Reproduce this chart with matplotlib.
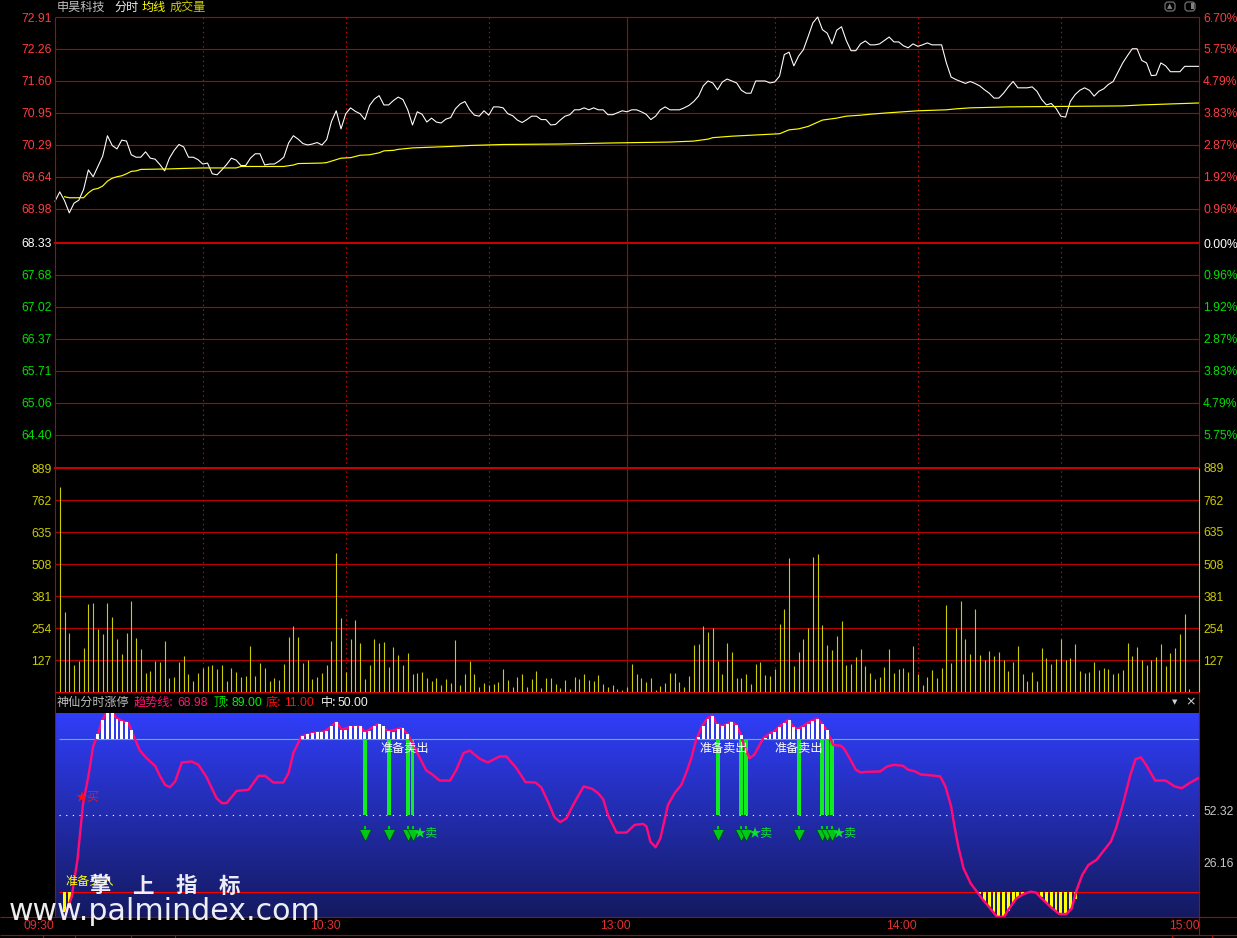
import numpy as np
import matplotlib
matplotlib.use("Agg")
import matplotlib.pyplot as plt
from matplotlib.patches import FancyBboxPatch

# ---------------- data ----------------
price = [
 69.14,69.33,69.15,68.90,69.10,69.16,69.38,69.78,69.64,69.85,
 70.06,70.48,70.28,70.21,70.39,70.37,70.09,70.04,70.04,70.15,
 70.02,70.00,69.89,69.76,70.02,70.18,70.30,70.25,70.04,70.04,
 69.99,69.90,69.92,69.70,69.68,69.78,69.89,70.02,69.98,69.87,
 69.87,70.02,70.11,70.11,69.88,69.90,69.90,69.96,70.04,70.33,
 70.48,70.41,70.32,70.29,70.31,70.34,70.29,70.40,70.77,70.99,
 70.62,70.93,71.05,70.98,70.93,70.81,71.10,71.23,71.30,71.11,
 71.11,71.20,71.27,71.22,71.01,70.70,70.97,70.92,70.76,70.84,
 70.76,70.74,70.82,70.85,71.03,71.13,71.18,71.01,70.90,70.88,
 70.99,70.90,71.07,71.07,71.05,70.93,70.89,70.80,70.75,70.81,
 70.88,70.88,70.81,70.81,70.70,70.71,70.80,70.88,70.91,71.01,
 71.01,71.05,71.01,71.05,71.01,71.01,70.91,70.91,70.95,70.99,
 70.97,71.01,71.01,70.97,70.92,70.81,70.88,71.01,71.07,71.01,
 71.01,71.01,71.05,71.10,71.18,71.29,71.50,71.60,71.56,71.42,
 71.58,71.64,71.60,71.56,71.41,71.35,71.35,71.60,71.60,71.60,
 71.56,71.58,71.70,72.14,72.19,71.91,72.11,72.24,72.51,72.79,
 72.91,72.65,72.58,72.36,72.64,72.71,72.43,72.22,72.22,72.36,
 72.42,72.34,72.34,72.36,72.43,72.50,72.40,72.40,72.32,72.28,
 72.36,72.31,72.34,72.38,72.34,72.34,72.34,71.97,71.68,71.63,
 71.59,71.55,71.59,71.55,71.50,71.42,71.35,71.25,71.25,71.35,
 71.48,71.59,71.46,71.46,71.46,71.48,71.39,71.22,71.11,71.14,
 71.04,70.88,70.86,71.18,71.32,71.41,71.46,71.41,71.29,71.39,
 71.44,71.53,71.59,71.78,71.97,72.12,72.26,72.26,72.02,71.97,
 71.71,71.72,71.97,71.91,71.79,71.79,71.79,71.90,71.90,71.90,
 71.90]

avg_minute = [2,3,6,7,8,9,10,11,12,13,14,15,16,17,18,24,27,31,38,39,48,50,51,56,57,58,60,62,64,66,68,69,
              71,72,75,83,87,94,106,116,129,134,137,138,142,148,152,154,156,158,161,164,166,169,171,175,
              178,181,187,189,192,200,224,228,234,240]
avg_price = [69.23,69.21,69.21,69.31,69.38,69.40,69.45,69.55,69.61,69.64,69.66,69.70,69.75,69.76,69.79,69.80,
             69.81,69.82,69.82,69.85,69.85,69.88,69.91,69.92,69.93,69.96,70.02,70.03,70.08,70.09,70.13,70.17,
             70.18,70.20,70.23,70.26,70.28,70.30,70.31,70.33,70.35,70.37,70.41,70.44,70.47,70.50,70.52,70.60,
             70.62,70.67,70.80,70.84,70.88,70.90,70.92,70.95,70.97,70.99,71.01,71.03,71.05,71.07,71.09,71.11,
             71.13,71.15]

volume = [
 812,317,234,107,123,174,348,352,249,230,
 352,297,210,150,234,360,214,170,75,83,
 123,119,202,55,59,119,143,71,44,75,
 95,103,107,91,107,44,95,79,59,63,
 182,63,115,95,44,55,48,111,218,261,
 218,115,127,51,59,75,107,202,550,293,
 79,210,285,194,51,107,210,194,198,99,
 178,147,108,156,73,77,81,57,45,57,
 29,53,37,207,29,73,124,73,21,37,
 29,33,41,92,49,21,61,73,21,53,
 84,17,57,57,33,17,49,13,61,53,
 73,49,45,69,33,21,29,13,9,21,
 112,73,57,41,57,9,25,37,77,77,
 41,21,65,187,191,263,239,255,124,73,
 195,160,57,57,73,33,112,120,69,65,
 92,271,330,532,104,160,211,255,536,548,
 267,187,168,223,282,108,112,140,172,104,
 77,53,61,100,172,77,92,96,81,183,
 73,29,61,88,57,96,346,116,255,362,
 211,152,330,148,128,164,144,160,128,84,
 120,183,73,45,81,45,176,136,112,132,
 211,128,136,191,84,77,81,120,88,96,
 92,73,77,88,195,144,180,128,108,128,
 140,191,104,156,176,231,310,13]

trend_minute = [2.3,3.5,4.7,5.9,7.0,8.0,9.1,9.8,10.8,11.9,12.9,14.3,15.4,16.4,17.8,19.2,21.0,22.0,23.1,24.1,25.2,26.6,
 28.7,30.1,31.8,33.9,35.0,36.0,38.1,40.6,42.7,44.1,45.8,47.9,49.0,50.0,51.7,54.2,56.6,59.1,60.1,61.9,64.0,65.0,67.8,
 69.9,72.7,74.1,76.2,77.9,79.0,80.7,82.9,84.2,85.7,87.0,89.1,90.8,93.3,94.7,96.8,98.7,100.8,102.0,103.4,104.8,106.0,
 107.3,108.7,110.9,112.7,113.9,115.0,116.0,117.8,119.9,121.6,123.4,124.1,124.9,126.0,127.0,128.6,130.0,131.4,132.4,
 133.5,134.5,135.8,136.9,137.9,138.8,139.9,140.9,141.8,142.9,143.9,144.6,145.7,146.7,148.6,149.9,150.9,152.0,153.0,
 153.9,154.8,155.8,156.9,157.9,158.8,159.9,160.9,161.9,162.8,163.2,164.9,165.6,166.7,168.0,169.0,170.1,173.1,174.6,
 176.0,177.9,179.0,180.5,181.6,183.1,185.7,186.8,188.0,188.7,189.5,190.6,192.1,193.4,194.7,196.2,197.6,199.1,200.2,
 201.7,203.2,204.7,205.8,207.7,209.2,210.7,212.2,213.3,214.2,215.5,216.8,218.5,221.5,222.6,224.1,225.6,226.7,227.8,
 228.9,230.8,233.0,234.9,236.4,238.2,239.9]
trend_value = [0.5,8.6,27.3,56.3,69.9,85.2,92.0,97.9,102.5,102.5,99.6,97.9,97.1,91.1,83.1,79.2,75.3,70.2,65.6,64.4,67.3,77.0,
 77.5,75.8,69.5,58.8,56.3,56.3,62.5,63.1,70.2,70.2,66.8,66.8,71.6,81.8,90.3,92.0,92.8,97.6,93.7,95.0,95.4,92.3,96.6,
 92.8,94.5,91.1,80.9,72.9,71.2,67.8,67.8,73.3,81.8,83.1,78.9,77.0,80.1,80.1,74.1,67.0,66.8,64.4,57.1,49.1,46.6,
 48.6,55.4,64.8,63.6,61.4,58.3,50.3,41.3,41.3,45.2,45.7,44.4,36.7,33.8,38.4,55.4,61.4,65.6,71.6,
 79.2,88.6,95.7,99.6,100.8,96.7,95.4,96.4,97.6,96.2,91.1,85.2,79.2,80.9,89.4,91.6,92.8,95.4,97.1,
 98.8,95.4,94.0,95.4,97.1,98.3,99.3,96.7,93.3,88.6,86.0,85.5,83.8,79.2,73.3,71.9,72.2,72.4,75.0,
 75.8,75.3,73.3,72.4,70.9,70.6,69.9,64.8,54.6,44.4,34.2,23.1,15.4,11.2,7.0,2.7,-1.6,-1.6,2.7,
 7.8,10.0,11.2,10.7,6.1,2.7,-0.2,-0.2,2.7,11.2,19.7,24.8,27.4,36.7,43.5,56.3,70.7,78.7,79.6,
 75.8,67.8,67.8,64.8,63.9,66.8,69.0]

top_level, bottom_level, mid_level = 89.0, 11.0, 50.0

white_minute = [9,10,11,12,13,14,15,16,
 52,53,54,55,56,57,58,59,60,61,62,63,64,65,66,67,68,69,70,71,72,73,74,
 135,136,137,138,139,140,141,142,143,144,
 149,150,151,152,153,154,155,156,157,158,159,160,161,162]
white_top = [91.6,98.8,102.7,102.7,99.3,98.3,97.8,93.7,
 90.6,91.5,92.0,92.7,92.3,93.2,95.4,97.8,93.7,93.7,95.4,95.7,95.4,92.3,93.2,95.4,96.7,95.7,93.2,92.7,94.2,94.7,91.6,
 89.9,95.7,99.3,100.8,96.7,95.4,96.7,97.6,96.2,91.1,
 89.4,91.5,92.7,95.0,97.1,98.8,95.0,94.0,95.0,96.7,98.3,99.3,96.7,93.3]

yellow_minute = [2,3, 194,195,196,197,198,199,200,201,202,203, 207,208,209,210,211,212,213,214]
yellow_low = [0.6,3.0, 10.0,6.6,3.2,0.5,-1.6,-1.6,1.5,5.6,8.3,9.8, 8.3,5.6,3.2,1.5,0.1,-0.2,2.2,7.6]

sell_minute = [65,70,74,75,139,144,145,156,161,162,163]
prep_sell_minute = [68.2,135.1,151.0]
sell_star_minute = [75.3,145.4,163.2]

price_up_ticks = [72.91,72.26,71.60,70.95,70.29,69.64,68.98]
pct_up_labels = ['6.70%','5.75%','4.79%','3.83%','2.87%','1.92%','0.96%']
price_low_ticks = [68.33,67.68,67.02,66.37,65.71,65.06,64.40]
pct_low_labels = ['0.00%','0.96%','1.92%','2.87%','3.83%','4.79%','5.75%']
vol_ticks = [889,762,635,508,381,254,127]
ind_ticks = [52.32,26.16]
dotted_minutes = [31,61,91,151,181,211]
solid_minute = 120
time_labels = ['09:30','10:30','13:00','14:00','15:00']
time_label_minutes = [-3.3,56.7,117.5,177.5,237.0]

# ---------------- layout ----------------
W,H = 1237,938
L,R = 55,1199
UP_T,MID,LOW_B,VOL_B,IND_T,IND_B,TIME_B = 17,243,468,692,713,917,935
PX_PER_UNIT = 48.85
CJK = ['Noto Sans CJK SC','DejaVu Sans']
NUM = 'Liberation Sans'
FS = 8.7
PX1 = 0.8
GRID = '#B80000'; THICK = '#C80000'
RED_T = '#FF3C3C'; GRN_T = '#00E000'; OLV = '#CCCC00'; GREY='#C8C8C8'

plt.rcParams['font.family'] = CJK
fig = plt.figure(figsize=(W/100,H/100),dpi=100,facecolor='black')

def make_ax(top,bottom,z=1):
    a = fig.add_axes([L/W,1-bottom/H,(R-L)/W,(bottom-top)/H],facecolor='black',zorder=z)
    a.set_xlim(0,240); a.set_xticks([])
    for s in a.spines.values(): s.set_visible(False)
    return a

def ticks(a,values,labels,colors,side='left'):
    a.set_yticks(values,labels)
    a.tick_params(axis='y',length=0,pad=2.4 if side=='left' else 3,labelsize=FS)
    for t,c in zip(a.get_yticklabels(),colors):
        t.set_color(c); t.set_family(NUM)

def right(a,values,labels,colors):
    b = a.twinx()
    b.set_ylim(a.get_ylim()); b.set_xlim(0,240); b.set_xticks([])
    for s in b.spines.values(): s.set_visible(False)
    ticks(b,values,labels,colors,'right')
    return b

def hgrid(a,values):
    c = a.hlines(values,0,240,color=GRID,lw=PX1,clip_on=False,zorder=1)
    c.set_snap(True)

minutes = np.arange(len(price))
vol_minutes = np.arange(1,len(volume)+1)

# price panel, upper half
a_up = make_ax(UP_T,MID)
a_up.set_ylim(72.91-(MID-UP_T)/PX_PER_UNIT,72.91)
ticks(a_up,price_up_ticks,[f'{v:.2f}' for v in price_up_ticks],[RED_T]*7)
right(a_up,price_up_ticks,pct_up_labels,[RED_T]*7)
hgrid(a_up,price_up_ticks)
a_up.plot(minutes,price,color='white',lw=0.78,clip_on=False,zorder=3)
a_up.plot(avg_minute,avg_price,color='#FFFF00',lw=0.85,clip_on=False,zorder=4)

# price panel, lower half
a_low = make_ax(MID,LOW_B)
a_low.set_ylim(68.33-(LOW_B-MID)/PX_PER_UNIT,68.33)
ticks(a_low,price_low_ticks,[f'{v:.2f}' for v in price_low_ticks],['white']+[GRN_T]*6)
right(a_low,price_low_ticks,pct_low_labels,['white']+[GRN_T]*6)
hgrid(a_low,price_low_ticks[1:])
a_low.axhline(price_low_ticks[0],color=THICK,lw=1.44,clip_on=False,zorder=2)

# volume panel
a_vol = make_ax(LOW_B,VOL_B)
a_vol.set_ylim(0,889)
ticks(a_vol,vol_ticks,[str(v) for v in vol_ticks],[OLV]*7)
right(a_vol,vol_ticks,[str(v) for v in vol_ticks],[OLV]*7)
hgrid(a_vol,vol_ticks[1:])
a_vol.axhline(vol_ticks[0],color=THICK,lw=1.44,clip_on=False,zorder=2)
a_vol.axhline(0,color='#E00000',lw=PX1,clip_on=False,zorder=2)
vbars = a_vol.vlines(vol_minutes,0,volume,color=OLV,lw=PX1,zorder=4)
vbars.set_snap(True)

for a in (a_up,a_low,a_vol):
    dv = a.vlines(dotted_minutes,*a.get_ylim(),color='#D80000',lw=PX1,linestyles=[(0,(1.3,3.0))],zorder=2)
    dv.set_snap(True)
    a.axvline(solid_minute,color=GRID,lw=PX1,zorder=2)

# indicator panel
a_ind = make_ax(IND_T,IND_B,z=2)
ind_lim = (-1.7,102.2)
top_col = np.array([48,62,250])/255; bot_col = np.array([20,26,96])/255
grad = np.linspace(0,1,204)[:,None,None]*(bot_col-top_col)+top_col
a_ind.imshow(grad,extent=(0,240,*ind_lim),aspect='auto',origin='upper',zorder=0)
a_ind.set_xlim(0,240); a_ind.set_ylim(*ind_lim)
a_ind.set_yticks([])
right(a_ind,ind_ticks,[f'{v:.2f}' for v in ind_ticks],[GREY]*2).set_zorder(3)
a_ind.hlines(top_level,0.8,240,color='#38E038',lw=PX1,zorder=1).set_snap(True)
a_ind.hlines(bottom_level,0.8,240,color='#FF0000',lw=PX1,zorder=1).set_snap(True)
a_ind.hlines(mid_level,0.8,240,color='white',lw=PX1,linestyles=[(0,(1.1,4.9))],zorder=1).set_snap(True)
BW = 2.9/4.767
a_ind.bar(sell_minute,top_level-mid_level,bottom=mid_level,width=3.9/4.767,color='#10EC20',zorder=2)
a_ind.bar(yellow_minute,np.array(yellow_low)-bottom_level,bottom=bottom_level,width=BW,color='#FFFF00',zorder=2)
a_ind.plot(trend_minute,trend_value,color='#FF0A78',lw=1.75,zorder=3,solid_joinstyle='round')
a_ind.bar(white_minute,np.array(white_top)-top_level,bottom=top_level,width=BW,color='white',zorder=4)
# arrows below sell bars
a_ind.vlines(sell_minute,41.0,44.4,color='#00C818',lw=1.5,zorder=4)
a_ind.plot(sell_minute,[40.0]*len(sell_minute),ls='',marker='v',ms=9,mfc='#00C818',mec='#004010',mew=0.5,zorder=4)
for m in prep_sell_minute:
    a_ind.text(m,84.2,'准备卖出',color='white',fontsize=FS,ha='left',va='center',family=CJK,zorder=6)
for m in sell_star_minute:
    a_ind.text(m,40.6,'★卖',color='#10E030',fontsize=FS,ha='left',va='center',family=CJK,zorder=6)
a_ind.text(4.4,59.6,'★买',color='#FF1010',fontsize=FS,ha='left',va='center',family=CJK,zorder=6)
a_ind.text(2.1,16.2,'准备买入',color='#FFFF00',fontsize=FS,ha='left',va='center',family=CJK,zorder=6)

# overlay in pixel coordinates for frame and captions
ov = fig.add_axes([0,0,1,1],zorder=10,facecolor='none')
ov.set_xlim(0,W); ov.set_ylim(H,0); ov.axis('off')
def seg(x0,y0,x1,y1,c=GRID,lw=PX1):
    ov.plot([x0,x1],[y0,y1],color=c,lw=lw,solid_capstyle='butt',snap=True)
seg(L,UP_T,L,IND_B)
seg(R,UP_T,R,LOW_B); seg(R,LOW_B,R,VOL_B,OLV); seg(R,VOL_B,R,TIME_B)
seg(0,IND_B,W,IND_B); seg(0,TIME_B,W,TIME_B)
for x in (43,75,131,175,1172,1212):
    seg(x,TIME_B,x,H)

def cap(x,y,s,c,family=CJK,fs=FS,**kw):
    ov.text(x,y,s,color=c,fontsize=fs,family=family,va='center',ha='left',**kw)
cap(57,7.5,'申昊科技','#C0C0C0'); cap(114,7.5,'分时','#F0F0F0'); cap(142,7.5,'均线','#FFFF00'); cap(170,7.5,'成交量',OLV)
cap(57,702.5,'神仙分时涨停','#C0C0C0')
cap(134,702.5,'趋势线:','#FF1470'); cap(177,702.5,'68.98','#FF1470',NUM)
cap(213,702.5,'顶:','#00F000'); cap(231,702.5,'89.00','#00F000',NUM)
cap(266,702.5,'底:','#FF1010'); cap(284,702.5,'11.00','#FF1010',NUM)
cap(321,702.5,'中:','#F0F0F0'); cap(338,702.5,'50.00','#F0F0F0',NUM)
ov.text(1175,702,'▼',color='#D0D0D0',fontsize=5,ha='center',va='center',family='DejaVu Sans')
ov.text(1191,702,'×',color='#D0D0D0',fontsize=9,ha='center',va='center',family='DejaVu Sans')
for x in (1165,1185):
    ov.add_patch(FancyBboxPatch((x,2),10,9,boxstyle='round,pad=0,rounding_size=3',fc='none',ec='#707070',lw=0.9))
ov.text(1170,6.5,'▲',color='#808080',fontsize=5,ha='center',va='center',family='DejaVu Sans')
ov.add_patch(plt.Rectangle((1191,3.5),3,6,fc='#808080',ec='none'))

for m,s in zip(time_label_minutes,time_labels):
    ov.text(L+m*(R-L)/240,926,s,color='#E03030',fontsize=FS,ha='center',va='center',family=NUM)

# watermark
for x,s in zip((101,143,186,229),'掌上指标'):
    ov.text(x,886,s,color='white',fontsize=15.5,ha='center',va='center',fontweight='bold',family=CJK,alpha=0.92)
ov.text(9,920,'www.palmindex.com',color='white',fontsize=21.6,ha='left',va='baseline',family='DejaVu Sans',alpha=0.93)

fig.savefig('out.png',dpi=100,facecolor='black')
